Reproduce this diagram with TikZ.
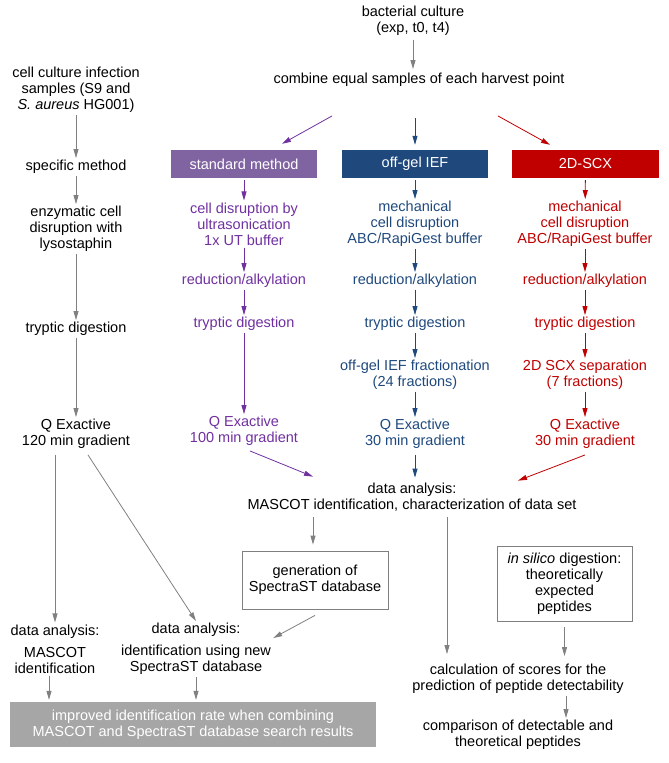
\documentclass[tikz,border=0pt]{standalone}
\usepackage{fontspec}
\setmainfont{Liberation Sans}
\usetikzlibrary{arrows.meta}
\definecolor{stdfill}{HTML}{8064A2}
\definecolor{stdtext}{HTML}{7030A0}
\definecolor{iefblue}{HTML}{1F497D}
\definecolor{scxred}{HTML}{C00000}
\definecolor{arrgray}{HTML}{808080}
\definecolor{resgray}{HTML}{A6A6A6}

\begin{document}
\begin{tikzpicture}[x=1pt, y=-1pt, >={Triangle[length=9pt,width=5pt]},
  lbl/.style={inner sep=2pt, align=center, font=\fontsize{14.5}{16}\selectfont},
  headbox/.style={lbl, inner sep=0pt, minimum width=146pt, minimum height=28pt, text=white},
  framebox/.style={lbl, draw=arrgray, line width=0.8pt},
  grayarr/.style={->, arrgray, line width=0.8pt},
  stdarr/.style={->, stdtext, line width=0.8pt},
  iefarr/.style={->, iefblue, line width=0.8pt},
  scxarr/.style={->, scxred, line width=0.8pt}]

\useasboundingbox (0,0) rectangle (669,763);

\node[lbl] (bact) at (413,21) {bacterial culture\\(exp, t0, t4)};
\node[lbl] (combine) at (419,80) {combine equal samples of each harvest point};

\node[lbl] (cell) at (76,90) {cell culture infection\\samples (S9 and\\\textit{S. aureus} HG001)};
\node[lbl] (spec) at (76,167) {specific method};
\node[lbl] (enz) at (76,229) {enzymatic cell\\disruption with\\lysostaphin};
\node[lbl] (tryL) at (76,329) {tryptic digestion};
\node[lbl] (qeL) at (76,434) {Q Exactive\\120 min gradient};

\node[headbox, fill=stdfill] (std) at (244,164) {standard method};
\node[lbl, text=stdtext] (stdA) at (244,224) {cell disruption by\\ultrasonication\\1x UT buffer};
\node[lbl, text=stdtext] (stdB) at (244,281) {reduction/alkylation};
\node[lbl, text=stdtext] (stdC) at (244,324) {tryptic digestion};
\node[lbl, text=stdtext] (stdD) at (244,431) {Q Exactive\\100 min gradient};

\node[headbox, fill=iefblue] (ief) at (415,164) {off-gel IEF};
\node[lbl, text=iefblue] (iefA) at (415,224) {mechanical\\cell disruption\\ABC/RapiGest buffer};
\node[lbl, text=iefblue] (iefB) at (415,281) {reduction/alkylation};
\node[lbl, text=iefblue] (iefC) at (415,324) {tryptic digestion};
\node[lbl, text=iefblue] (iefD) at (415,375) {off-gel IEF fractionation\\(24 fractions)};
\node[lbl, text=iefblue] (iefE) at (415,434) {Q Exactive\\30 min gradient};

\node[headbox, fill=scxred, minimum width=147pt] (scx) at (585.5,164) {2D-SCX};
\node[lbl, text=scxred] (scxA) at (585,224) {mechanical\\cell disruption\\ABC/RapiGest buffer};
\node[lbl, text=scxred] (scxB) at (585,281) {reduction/alkylation};
\node[lbl, text=scxred] (scxC) at (585,324) {tryptic digestion};
\node[lbl, text=scxred] (scxD) at (585,375) {2D SCX separation\\(7 fractions)};
\node[lbl, text=scxred] (scxE) at (585,434) {Q Exactive\\30 min gradient};

\node[lbl] (data) at (412,497) {data analysis:\\MASCOT identification, characterization of data set};
\node[framebox, minimum width=146pt, minimum height=58pt] (gen) at (315,580) {generation of\\SpectraST database};
\node[framebox, minimum width=135pt, minimum height=75pt] (silico) at (564.5,583.5) {\textit{in silico} digestion:\\theoretically\\expected\\peptides};
\node[lbl] (calc) at (518,679) {calculation of scores for the\\prediction of peptide detectability};
\node[lbl] (comp) at (518,735) {comparison of detectable and\\theoretical peptides};

\node[lbl] (daL) at (55,649) {data analysis:\\[6pt]MASCOT\\identification};
\node[lbl] (daR) at (196,649) {data analysis:\\[6pt]identification using new\\SpectraST database};
\node[lbl, fill=resgray, text=white, inner sep=0pt, minimum width=366pt, minimum height=45pt] (result) at (193,724.5) {improved identification rate when combining\\MASCOT and SpectraST database search results};

\draw [grayarr, shorten <=2pt, shorten >=2pt] (bact.south) -- (bact.south |- combine.north);
\draw [stdarr] ([xshift=-87pt,yshift=-27pt]combine.south) -- ([xshift=38pt,yshift=6pt]std.north);
\draw [iefarr, <-, shorten <=5pt] (ief.north) -- ++(0,-32);
\draw [scxarr] ([xshift=79pt,yshift=-27pt]combine.south) -- ([xshift=-35.5pt,yshift=5pt]scx.north);

\draw [grayarr] (cell) -- (spec);
\draw [grayarr] (spec) -- (enz);
\draw [grayarr] (enz) -- (tryL);
\draw [grayarr] (tryL) -- (qeL);

\draw [stdarr, shorten <=2pt] (std) -- (stdA);
\draw [stdarr] (stdA) -- (stdB);
\draw [stdarr] (stdB) -- (stdC);
\draw [stdarr] (stdC) -- (stdD);
\draw [stdarr] ([xshift=6pt,yshift=-3pt]stdD.south) -- ([xshift=-99pt,yshift=4pt]data.north);

\draw [iefarr, shorten <=2pt] (ief) -- (iefA);
\draw [iefarr] (iefA) -- (iefB);
\draw [iefarr] (iefB) -- (iefC);
\draw [iefarr] (iefC) -- (iefD);
\draw [iefarr] (iefD) -- (iefE);
\draw [iefarr, shorten <=4pt, shorten >=3pt] (iefE.south) -- (iefE.south |- data.north);

\draw [scxarr, shorten <=2pt] (scx) -- (scxA);
\draw [scxarr] (scxA) -- (scxB);
\draw [scxarr] (scxB) -- (scxC);
\draw [scxarr] (scxC) -- (scxD);
\draw [scxarr] (scxD) -- (scxE);
\draw [scxarr] ([yshift=-4pt]scxE.south) -- ([xshift=106pt]data.north);

\draw [grayarr, shorten <=4pt, shorten >=6pt] ([xshift=-99pt]data.south) -- ([xshift=-99pt]data.south |- gen.north);
\draw [grayarr, shorten <=4pt, shorten >=8pt] ([xshift=35pt]data.south) -- ([xshift=35pt]data.south |- calc.north);
\draw [grayarr, shorten <=6pt, shorten >=6pt] (silico.south) -- (silico.south |- calc.north);
\draw [grayarr] ([xshift=48pt]calc.south) -- ([xshift=48pt]calc.south |- comp.north);
\draw [grayarr] ([yshift=-6pt]gen.south) -- ([yshift=-17pt]daR.north east);

\draw [grayarr, shorten <=4pt] (daL.north |- qeL.south) -- (daL.north);
\draw [grayarr] ([xshift=12pt,yshift=-4pt]qeL.south) -- (daR.north);
\draw [grayarr, shorten >=2pt] ([xshift=-6pt]daL.south) -- ([xshift=-6pt]daL.south |- result.north);
\draw [grayarr, shorten >=2pt] (daR.south) -- (daR.south |- result.north);

\end{tikzpicture}
\end{document}
